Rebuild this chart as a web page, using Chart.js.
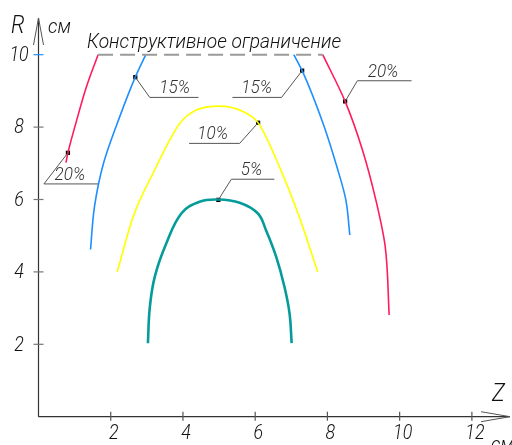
<!DOCTYPE html>
<html>
<head>
<meta charset="utf-8">
<script src="https://cdn.jsdelivr.net/npm/chart.js@4"></script>
<style>
html,body{margin:0;padding:0;background:#fff;}
canvas{display:block;}
</style>
</head>
<body>
<canvas id="c" width="512" height="445"></canvas>
<script>
// ---- data (Z, R in cm) ----
const xTicks = [2, 4, 6, 8, 10, 12];
const yTicks = [2, 4, 6, 8, 10];
const constraintR = 10;
const constraintZ = [1.65, 7.87];
const constraintLabel = 'Конструктивное ограничение';

const red20Left = [{x:0.76,y:7.02},{x:0.815,y:7.29},{x:1.06,y:8.2},{x:1.33,y:9.12},{x:1.65,y:10}];
const blue15Left = [{x:1.44,y:4.62},{x:1.55,y:5.8},{x:1.80,y:7.0},{x:2.25,y:8.29},{x:2.68,y:9.38},{x:2.97,y:10}];
const yellow10 = [{x:2.18,y:4.0},{x:2.62,y:5.52},{x:3.17,y:6.72},{x:3.91,y:8.10},{x:4.37,y:8.47},{x:5.01,y:8.58},{x:5.66,y:8.43},{x:6.08,y:8.12},{x:6.67,y:6.91},{x:7.22,y:5.52},{x:7.73,y:4.0}];
const teal5 = [{x:3.03,y:2.03},{x:3.08,y:3.0},{x:3.22,y:3.87},{x:3.54,y:4.79},{x:3.96,y:5.62},{x:4.46,y:5.94},{x:4.98,y:6.0},{x:5.57,y:5.91},{x:6.07,y:5.62},{x:6.30,y:5.15},{x:6.58,y:4.42},{x:6.81,y:3.59},{x:6.95,y:2.86},{x:7.01,y:2.03}];
const blue15Right = [{x:7.07,y:10},{x:7.30,y:9.56},{x:7.88,y:8.10},{x:8.26,y:6.91},{x:8.51,y:5.99},{x:8.62,y:5.02}];
const red20Right = [{x:7.87,y:10},{x:8.49,y:8.71},{x:8.97,y:7.37},{x:9.34,y:5.99},{x:9.60,y:4.70},{x:9.71,y:2.81}];

// marked points with their labels
const markerPoints = [{x:0.815,y:7.29},{x:2.68,y:9.38},{x:7.30,y:9.56},{x:6.08,y:8.12},{x:4.98,y:5.99},{x:8.49,y:8.71}];
const markerLabels = ['20%','15%','15%','10%','5%','20%'];
// leader elbow and shelf end (data units), label centre on shelf
const leaderElbow = [{x:0.15,y:6.43},{x:3.08,y:8.82},{x:6.73,y:8.82},{x:5.57,y:7.55},{x:5.34,y:6.56},{x:8.83,y:9.28}];
const leaderEnd   = [{x:1.65,y:6.43},{x:4.43,y:8.82},{x:5.37,y:8.82},{x:4.17,y:7.55},{x:6.53,y:6.56},{x:10.33,y:9.28}];
const labelCenterX = [0.87, 3.77, 6.04, 4.82, 5.90, 9.54];

const FONT = 'Roboto,"DejaVu Sans",sans-serif';
const RED = '#ff1c5e', BLUE = '#1e8fff', YELLOW = '#ffff00', TEAL = '#069b9b';

// branch: R is the independent variable (monotone along y)
function branch(data, color, w) {
  return {data, indexAxis: 'y', borderColor: color, borderWidth: w, showLine: true, pointRadius: 0,
          cubicInterpolationMode: 'monotone', fill: false, clip: false};
}
function arch(data, color, w, mono) {
  const d = {data, borderColor: color, borderWidth: w, showLine: true, pointRadius: 0, fill: false, clip: false};
  if (mono) d.cubicInterpolationMode = 'monotone'; else d.tension = 0.4;
  return d;
}

function narrowText(ctx, text, px, py, sx, align) {
  ctx.save();
  ctx.translate(px, py);
  ctx.scale(sx, 1);
  ctx.textAlign = align;
  ctx.fillText(text, 0, 0);
  ctx.restore();
}

const decor = {
  id: 'decor',
  beforeDatasetsDraw(chart) {
    const {ctx, scales: {x, y}} = chart;
    const x0 = x.getPixelForValue(0), y0 = y.getPixelForValue(0);
    ctx.save();
    ctx.strokeStyle = '#333';
    ctx.lineWidth = 1.2;
    ctx.beginPath();
    ctx.moveTo(x0, y0); ctx.lineTo(x0, 18);
    ctx.moveTo(x0, y0); ctx.lineTo(510, y0);
    ctx.stroke();
    ctx.lineWidth = 1;
    ctx.strokeStyle = '#555';
    ctx.beginPath();
    ctx.moveTo(x0 - 5, 45); ctx.lineTo(x0, 18); ctx.lineTo(x0 + 5, 45);
    ctx.moveTo(481, y0 - 5); ctx.lineTo(510, y0); ctx.lineTo(481, y0 + 5);
    ctx.stroke();
    ctx.lineWidth = 1.2;
    yTicks.forEach(v => {
      const py = y.getPixelForValue(v);
      ctx.strokeStyle = v === constraintR ? BLUE : '#777';
      ctx.beginPath(); ctx.moveTo(x0 - 5, py); ctx.lineTo(x0 + 5, py); ctx.stroke();
    });
    ctx.strokeStyle = '#555';
    xTicks.forEach(v => {
      const px = x.getPixelForValue(v);
      ctx.beginPath(); ctx.moveTo(px, y0 - 5); ctx.lineTo(px, y0 + 4); ctx.stroke();
    });
    ctx.fillStyle = '#111';
    ctx.font = 'italic 300 21px ' + FONT;
    ctx.textBaseline = 'middle';
    yTicks.forEach(v => narrowText(ctx, String(v), 19, y.getPixelForValue(v) + 1, 0.85, 'center'));
    xTicks.forEach(v => narrowText(ctx, String(v), x.getPixelForValue(v) + 3, 434, 0.85, 'center'));
    ctx.textBaseline = 'alphabetic';
    ctx.font = 'italic 300 26px ' + FONT;
    narrowText(ctx, 'R', 11, 33, 0.85, 'left');
    narrowText(ctx, 'Z', 492, 401, 0.85, 'left');
    ctx.font = 'italic 300 21px ' + FONT;
    narrowText(ctx, 'см', 48, 33, 0.9, 'left');
    narrowText(ctx, 'см', 491, 451, 0.9, 'left');
    ctx.restore();
  },
  afterDatasetsDraw(chart) {
    const {ctx, scales: {x, y}} = chart;
    ctx.save();
    ctx.fillStyle = '#111';
    ctx.font = 'italic 300 20px ' + FONT;
    ctx.textBaseline = 'alphabetic';
    const w = ctx.measureText(constraintLabel).width;
    narrowText(ctx, constraintLabel, 87, 48, 254 / w, 'left');
    ctx.strokeStyle = '#555';
    ctx.lineWidth = 1;
    markerPoints.forEach((m, i) => {
      ctx.beginPath();
      ctx.moveTo(x.getPixelForValue(m.x), y.getPixelForValue(m.y));
      ctx.lineTo(x.getPixelForValue(leaderElbow[i].x), y.getPixelForValue(leaderElbow[i].y));
      ctx.lineTo(x.getPixelForValue(leaderEnd[i].x), y.getPixelForValue(leaderEnd[i].y));
      ctx.stroke();
    });
    ctx.fillStyle = '#333';
    ctx.font = 'italic 300 19px ' + FONT;
    markerLabels.forEach((t, i) => {
      narrowText(ctx, t, x.getPixelForValue(labelCenterX[i]), y.getPixelForValue(leaderElbow[i].y) - 4, 0.9, 'center');
    });
    ctx.restore();
  }
};

new Chart(document.getElementById('c'), {
  type: 'scatter',
  data: {
    datasets: [
      {data: [{x: constraintZ[0], y: constraintR}, {x: constraintZ[1], y: constraintR}], borderColor: '#9a9a9a', borderWidth: 2, borderDash: [15, 7], showLine: true, pointRadius: 0, clip: false},
      branch(red20Left, RED, 1.6),
      branch(blue15Left, BLUE, 1.6),
      arch(yellow10, YELLOW, 1.6, true),
      arch(teal5, TEAL, 2.6, false),
      branch(blue15Right, BLUE, 1.6),
      branch(red20Right, RED, 1.6),
      {data: markerPoints, showLine: false, pointStyle: 'rect', pointRadius: 3, pointBackgroundColor: '#000', pointBorderColor: '#000', pointBorderWidth: 0, clip: false}
    ]
  },
  options: {
    responsive: false,
    animation: false,
    devicePixelRatio: 1,
    layout: {padding: {left: 38.5, right: 3, top: 18.5, bottom: 28.3}},
    plugins: {legend: {display: false}, tooltip: {enabled: false}},
    scales: {
      x: {type: 'linear', min: 0, max: 13, display: false},
      y: {type: 'linear', min: 0, max: 11, display: false}
    }
  },
  plugins: [decor]
});
</script>
</body>
</html>
